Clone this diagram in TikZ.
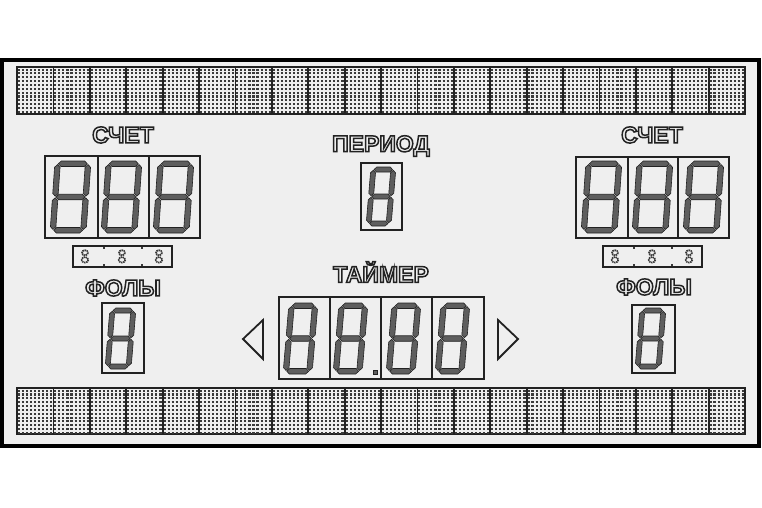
\documentclass[tikz,border=0pt]{standalone}
\usepackage{fontspec}
\setmainfont{Liberation Sans}
\definecolor{panelbg}{HTML}{EFEFEF}
\definecolor{ink}{HTML}{222222}
\definecolor{segfill}{HTML}{5E5E5E}
\definecolor{dotink}{HTML}{3A3A3A}
\newcommand\outl[1]{\special{pdf:literal direct 1 Tr 1.5 w}#1\special{pdf:literal direct 0 Tr}}
\newcommand\hseg[3]{%
  \filldraw[segstyle] ({#1+\G},{#3}) -- ({#1+\G+\H},{#3+\H}) -- ({#2-\G-\H},{#3+\H}) -- ({#2-\G},{#3}) -- ({#2-\G-\H},{#3-\H}) -- ({#1+\G+\H},{#3-\H}) -- cycle;}
\newcommand\vseg[3]{%
  \filldraw[segstyle] ({#1},{#2+\G}) -- ({#1+\H},{#2+\G+\H}) -- ({#1+\H},{#3-\G-\H}) -- ({#1},{#3-\G}) -- ({#1-\H},{#3-\G-\H}) -- ({#1-\H},{#2+\G+\H}) -- cycle;}
\newcommand\digitat[6]{%
  \begin{scope}[shift={(#1,#2)}, x=1pt, y=1pt, xslant={#6/#4}]
    \pgfmathsetmacro\W{#3}\pgfmathsetmacro\Hh{#4}\pgfmathsetmacro\H{#5/2}\pgfmathsetmacro\M{#4/2}\def\G{0.8}
    \hseg{\H}{\W-\H}{\Hh-\H}
    \hseg{\H}{\W-\H}{\M}
    \hseg{\H}{\W-\H}{\H}
    \vseg{\H}{\M}{\Hh-\H}
    \vseg{\W-\H}{\M}{\Hh-\H}
    \vseg{\H}{\H}{\M}
    \vseg{\W-\H}{\H}{\M}
  \end{scope}}
\newcommand\band[2]{%
  \draw[bandframe] (17,#1) rectangle (745,#2);
  \foreach \r in {0,...,11} {
    \draw[dotrow] (17.9,{#1+2.6+3.85*\r}) -- (745,{#1+2.6+3.85*\r});
  }
  \foreach \i in {1,...,19} {
    \draw[bandsep] ({17+36.4*\i},#1) -- ({17+36.4*\i},#2);
  }}
\newcommand\mini[1]{%
  \draw[minidot] (#1,252.8) ellipse (3.0 and 2.6);
  \draw[minidot] (#1,259.8) ellipse (3.3 and 2.8);}
\newcommand\tick[1]{%
  \fill[dotink] ({#1-1},247.2) rectangle ({#1+1},249.2);
  \fill[dotink] ({#1-1},263.8) rectangle ({#1+1},265.8);}
\begin{document}
\begin{tikzpicture}[x=1pt,y=-1pt,
  segstyle/.style={fill=segfill, draw=ink, line width=0.6, line join=miter},
  boxline/.style={draw=ink, line width=1.2},
  bandframe/.style={draw=ink, line width=1.5, fill=panelbg},
  dotrow/.style={draw=dotink, line width=2.1, dash pattern=on 2.1 off 1.944},
  bandsep/.style={draw=ink, line width=1.8},
  minidot/.style={draw=dotink, line width=1.7, dash pattern=on 1.4 off 0.7},
  lbl/.style={font=\fontsize{23}{23}\selectfont\bfseries, text=ink, inner sep=0pt},
  arrowtri/.style={draw=ink, line width=1.8, line join=miter}]
\useasboundingbox (0,0) rectangle (762,508);
\fill[white] (0,0) rectangle (762,508);
% frame
\draw[draw=black, line width=3.5, fill=panelbg] (2,60) rectangle (759,446);
% matrix bands
\band{67}{114}
\band{388}{434}
% labels
\node[lbl] (scoreL) at (123,135) {\outl{СЧЕТ}};
\node[lbl] (scoreR) at (652,135) {\outl{СЧЕТ}};
\node[lbl] (period) at (381,146) {\outl{ПЕРИОД}};
\node[lbl] (timer) at (381,272) {\outl{ТАЙМЕР}};
\node[lbl] (foulL) at (123,288) {\outl{ФОЛЫ}};
\node[lbl] (foulR) at (654,287) {\outl{ФОЛЫ}};
% left score
\draw[boxline] (45,156) rectangle (200,238);
\draw[boxline] (98,156) -- (98,238);
\draw[boxline] (149,156) -- (149,238);
\digitat{50}{233}{36}{72}{5.5}{5}
\digitat{101}{233}{36}{72}{5.5}{5}
\digitat{153}{233}{36}{72}{5.5}{5}
% right score
\draw[boxline] (576,157) rectangle (729,238);
\draw[boxline] (628,157) -- (628,238);
\draw[boxline] (678,157) -- (678,238);
\digitat{581}{233}{36}{72}{5.5}{5}
\digitat{632}{233}{36}{72}{5.5}{5}
\digitat{683}{233}{36}{72}{5.5}{5}
% period
\draw[boxline] (361,163) rectangle (402,230);
\digitat{366}{226}{25}{59}{5}{5}
% foul strips
\draw[boxline] (73,246) rectangle (172,267);
\mini{85}\mini{122}\mini{159}
\tick{104}\tick{142}
\draw[boxline] (603,246) rectangle (702,267);
\mini{615}\mini{652}\mini{689}
\tick{634}\tick{672}
% foul digits
\draw[boxline] (102,303) rectangle (144,373);
\digitat{105}{369}{26}{61}{5}{5}
\draw[boxline] (632,305) rectangle (675,373);
\digitat{635}{369}{26}{61}{5}{5}
% timer
\draw[boxline] (279,297) rectangle (484,379);
\draw[boxline] (330,297) -- (330,379);
\draw[boxline] (381,297) -- (381,379);
\draw[boxline] (432,297) -- (432,379);
\digitat{283}{374}{29}{71}{5.5}{6}
\digitat{333}{374}{29}{71}{5.5}{6}
\digitat{386}{374}{29}{71}{5.5}{6}
\digitat{435}{374}{29}{71}{5.5}{6}
\fill[segfill, draw=ink, line width=0.5] (373,370) rectangle (377.5,374.5);
% arrows
\draw[arrowtri] (243,339) -- (263,320) -- (263,359) -- cycle;
\draw[arrowtri] (518,339) -- (498,320) -- (498,359) -- cycle;
\end{tikzpicture}
\end{document}
